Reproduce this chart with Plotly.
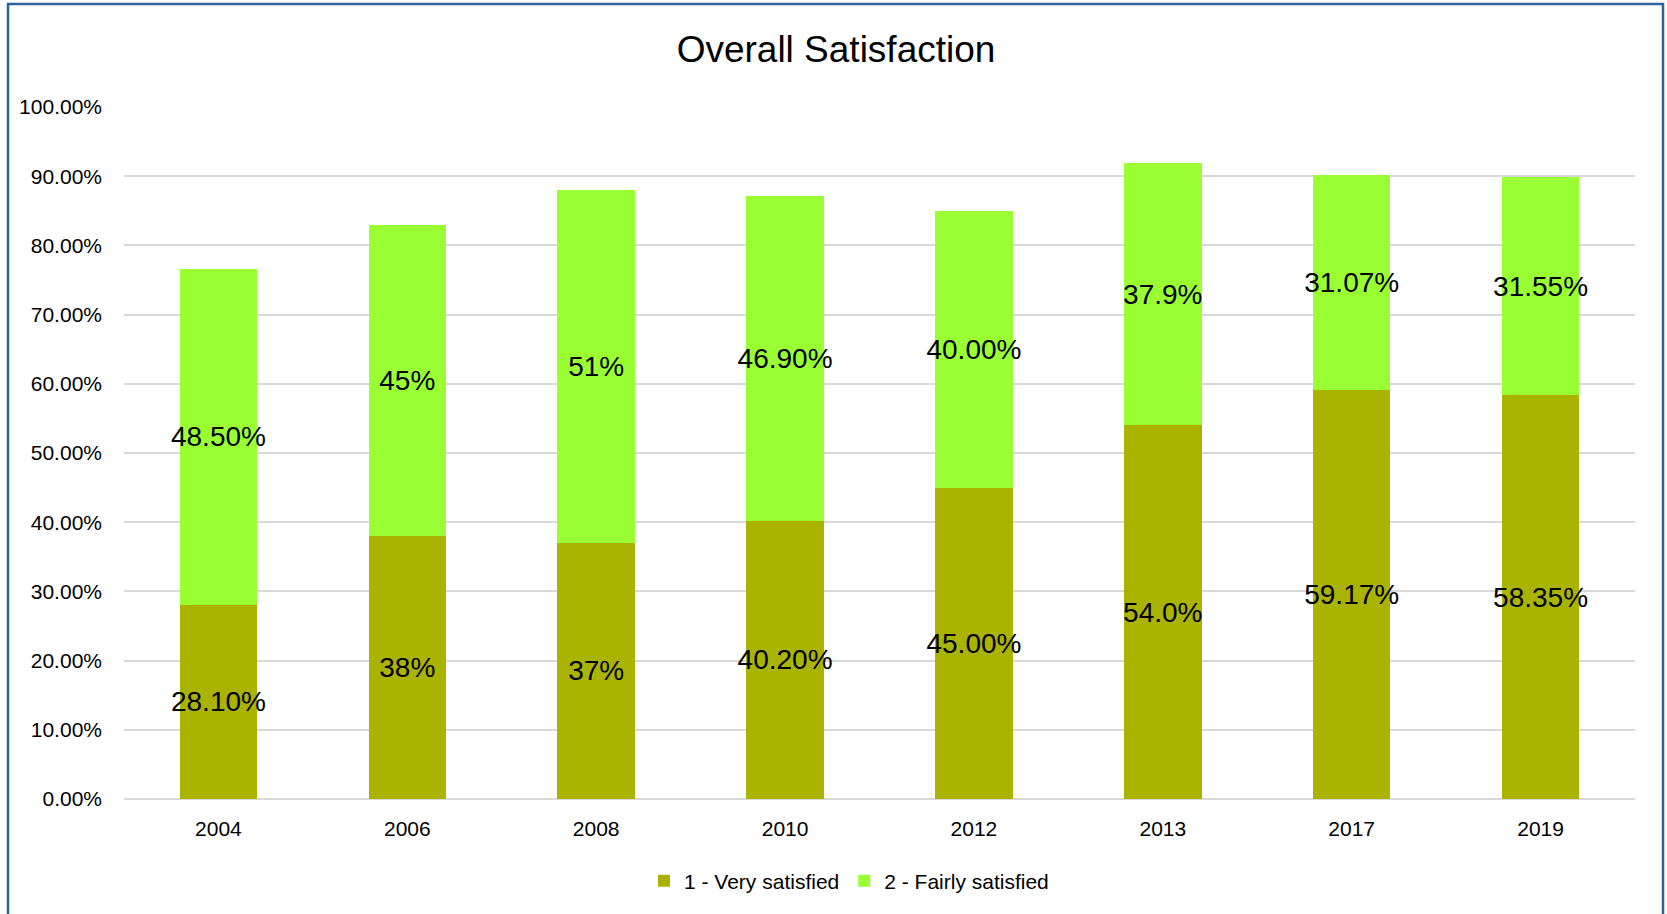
import plotly.graph_objects as go

# Survey years and the two satisfaction shares (percent)
years = ["2004", "2006", "2008", "2010", "2012", "2013", "2017", "2019"]
very_satisfied = [28.10, 38, 37, 40.20, 45.00, 54.0, 59.17, 58.35]
fairly_satisfied = [48.50, 45, 51, 46.90, 40.00, 37.9, 31.07, 31.55]

# Data labels as printed on the bars
very_labels = ["28.10%", "38%", "37%", "40.20%", "45.00%", "54.0%", "59.17%", "58.35%"]
fairly_labels = ["48.50%", "45%", "51%", "46.90%", "40.00%", "37.9%", "31.07%", "31.55%"]

y_ticks = [0, 10, 20, 30, 40, 50, 60, 70, 80, 90, 100]
y_tick_text = [f"{v:.2f}%" for v in y_ticks]

FONT = "Liberation Sans Narrow, Arial Narrow, Liberation Sans, Arial, sans-serif"
W, H = 1667, 914
L, R, T, B = 124, 32, 107, 115
pw, ph = W - L - R, H - T - B

TICK_SIZE = 21
LABEL_SIZE = 28

fig = go.Figure()
for vals, labels, name, color in [
    (very_satisfied, very_labels, "1 - Very satisfied", "#AAB400"),
    (fairly_satisfied, fairly_labels, "2 - Fairly satisfied", "#99FF33"),
]:
    fig.add_trace(go.Bar(
        x=years, y=vals, name=name,
        marker=dict(color=color, line=dict(width=0)),
        text=labels, textposition="inside", insidetextanchor="middle",
        textangle=0, constraintext="none",
        textfont=dict(family=FONT, size=LABEL_SIZE, color="#000000"),
        hoverinfo="skip",
    ))

# Outer chart frame
fig.add_shape(
    type="rect", xref="paper", yref="paper",
    x0=(8 - L) / pw, x1=(1663 - L) / pw,
    y0=(H - 920 - B) / ph, y1=(H - 4 - B) / ph,
    line=dict(color="#2E6599", width=2.5), fillcolor="rgba(0,0,0,0)",
    layer="above",
)

fig.update_layout(
    width=W, height=H,
    margin=dict(l=L, r=R, t=T, b=B, autoexpand=False),
    barmode="stack", bargap=0.59,
    paper_bgcolor="white", plot_bgcolor="white",
    font=dict(family=FONT, size=TICK_SIZE, color="#000000"),
    title=dict(text="Overall Satisfaction", x=836 / W, xanchor="center",
               y=1 - 49 / H, yanchor="middle",
               font=dict(family=FONT, size=37, color="#000000")),
    showlegend=True,
    legend=dict(orientation="h", x=(644 - L) / pw, xanchor="left",
                y=-(881 - (H - B)) / ph, yanchor="middle",
                font=dict(family=FONT, size=TICK_SIZE),
                itemwidth=30, traceorder="normal"),
    xaxis=dict(type="category", showgrid=False, showline=False, ticks="",
               tickfont=dict(family=FONT, size=TICK_SIZE), ticklabelstandoff=15),
    yaxis=dict(range=[0, 100], tickvals=y_ticks, ticktext=y_tick_text,
               showgrid=True, gridcolor="#D9D9D9", gridwidth=2,
               zeroline=True, zerolinecolor="#D9D9D9", zerolinewidth=2,
               showline=False, ticks="", tickfont=dict(family=FONT, size=TICK_SIZE),
               ticklabelstandoff=21),
)

fig.write_html("out.html")
